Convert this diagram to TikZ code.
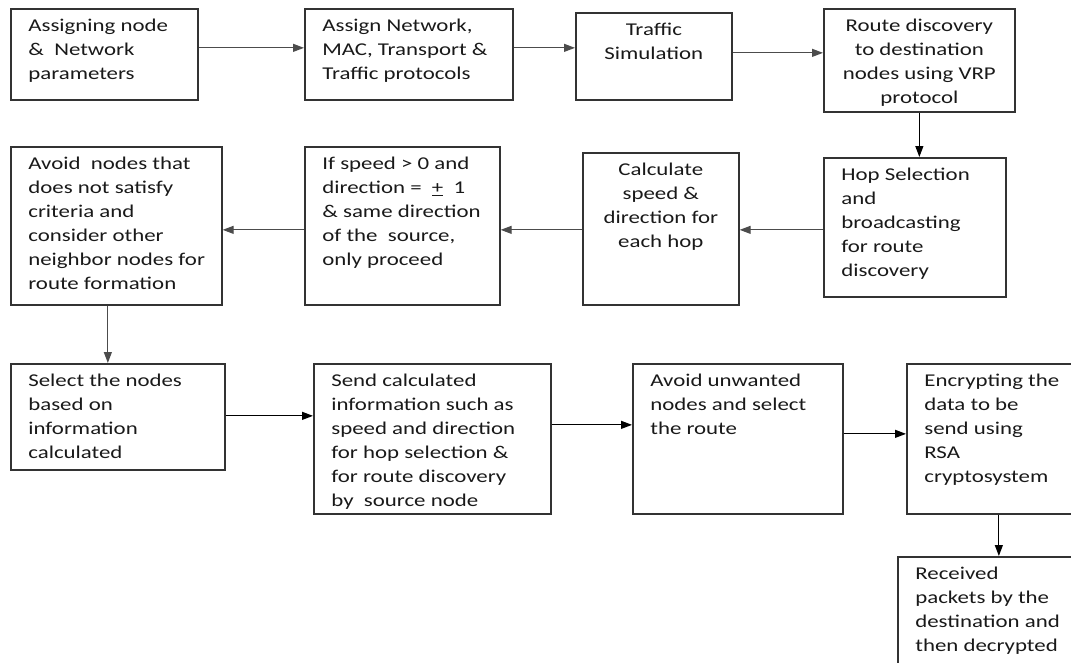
\documentclass[tikz,border=0pt]{standalone}
\usepackage{fontspec}
\setmainfont{Carlito}[FakeStretch=1.27]
\usepackage{tikz}
\usetikzlibrary{
  arrows.meta,
  positioning,
}
\tikzstyle{arrow} = [
  -{Triangle[length=11pt,width=8pt]},
  line width=1.2pt,
  black!70,
]
\tikzstyle{flowbox} = [
  rectangle,
  draw=black!80,
  line width=1.7pt,
  inner sep=0pt,
  anchor=north west,
  text=black!90,
  font={\fontsize{18pt}{24pt}\selectfont},
]
\newcommand{\lefttext}[3]{\parbox[t][#2pt][t]{#1pt}{\raggedright\leftskip=17.5pt\vspace*{6.2pt}\strut#3}}
\newcommand{\midtext}[3]{\parbox[t][#2pt][t]{#1pt}{\centering\vspace*{6.2pt}\strut#3}}

\begin{document}
\begin{tikzpicture}[x=1pt, y=-1pt]
  \useasboundingbox (0,0) rectangle (1071,662);
  \clip (0,0) rectangle (1071,662);
  \node[flowbox] (assign) at (10,8) {\lefttext{187}{91}{Assigning node\\ \&~ Network\\ parameters}};
  \node[flowbox] (protocols) at (304,8) {\lefttext{208}{91}{Assign Network,\\ MAC, Transport \&\\ Traffic protocols}};
  \node[flowbox] (traffic) at (575,12) {\midtext{156}{87}{Traffic\\ Simulation}};
  \node[flowbox] (discovery) at (823,8) {\midtext{191}{103}{Route discovery\\ to destination\\ nodes using VRP\\ protocol}};
  \node[flowbox] (hop) at (823,157) {\lefttext{182}{139}{Hop Selection\\ and\\ broadcasting\\ for route\\ discovery}};
  \node[flowbox] (calc) at (582,152) {\midtext{156}{152}{Calculate\\ speed \&\\ direction for\\ each hop}};
  \node[flowbox] (check) at (304,146) {\lefttext{195}{158}{If speed > 0 and\\ direction =~ \underline{+}~ 1\\ \& same direction\\ of the~ source,\\ only proceed}};
  \node[flowbox] (avoid) at (10,146) {\lefttext{211}{158}{Avoid~ nodes that\\ does not satisfy\\ criteria and\\ consider other\\ neighbor nodes for\\ route formation}};
  \node[flowbox] (select) at (10,363) {\lefttext{214}{106}{Select the nodes\\ based on\\ information\\ calculated}};
  \node[flowbox] (send) at (313,363) {\lefttext{237}{150}{Send calculated\\ information such as\\ speed and direction\\ for hop selection \&\\ for route discovery\\ by~ source node}};
  \node[flowbox] (unwanted) at (632,363) {\lefttext{210}{150}{Avoid unwanted\\ nodes and select\\ the route}};
  \node[flowbox] (encrypt) at (906,363) {\lefttext{184}{150}{Encrypting the\\ data to be\\ send using\\ RSA\\ cryptosystem}};
  \node[flowbox] (receive) at (897,556) {\lefttext{193}{144}{Received\\ packets by the\\ destination and\\ then decrypted}};

  \draw[arrow] ([yshift=6.5pt]assign.east) -- ([yshift=6.5pt]protocols.west);
  \draw[arrow] ([yshift=6.5pt]protocols.east) -- ([yshift=8.5pt]traffic.west);
  \draw[arrow] ([yshift=3.5pt]traffic.east) -- ([yshift=7.5pt]discovery.west);
  \draw[arrow, black] (discovery.south) -- (discovery.south |- hop.north);
  \draw[arrow] ([yshift=-2.5pt]hop.west) -- ([yshift=-1pt]calc.east);
  \draw[arrow] ([yshift=-1pt]calc.west) -- ([yshift=-4pt]check.east);
  \draw[arrow] ([yshift=-4pt]check.west) -- ([yshift=-4pt]avoid.east);
  \draw[arrow] ([xshift=-8.5pt]avoid.south) -- ([xshift=-10pt]select.north);
  \draw[arrow, black] ([yshift=1pt]select.east) -- ([yshift=23pt]send.west);
  \draw[arrow, black] ([yshift=14pt]send.east) -- ([yshift=14pt]unwanted.west);
  \draw[arrow, black] ([yshift=5pt]unwanted.east) -- ([yshift=5pt]encrypt.west);
  \draw[arrow, black] (encrypt.south) -- (encrypt.south |- receive.north);
\end{tikzpicture}
\end{document}
